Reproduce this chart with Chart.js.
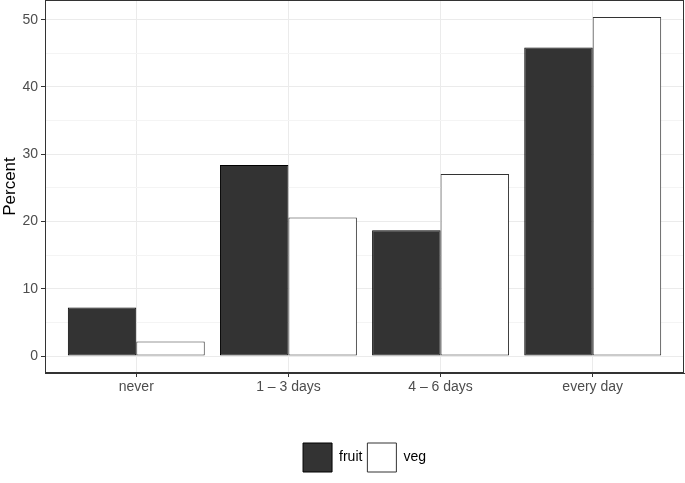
<!DOCTYPE html>
<html>
<head>
<meta charset="utf-8">
<script src="https://cdn.jsdelivr.net/npm/chart.js@4/dist/chart.umd.min.js"></script>
<style>
html,body{margin:0;padding:0;background:#fff;}
#wrap{width:685px;height:483px;}
</style>
</head>
<body>
<div id="wrap"><canvas id="c" width="685" height="483"></canvas></div>
<script>
const categories = ["never", "1 \u2013 3 days", "4 \u2013 6 days", "every day"];
const fruit = [7.2, 28.4, 18.7, 45.85];
const veg = [2.15, 20.6, 27.05, 50.4];
const yTicks = [0, 5, 10, 15, 20, 25, 30, 35, 40, 45, 50];

const FONT = "'Liberation Sans', Arial, Helvetica, sans-serif";

const panelBorder = {
  id: 'panelBorder',
  afterDatasetsDraw(chart) {
    const a = chart.chartArea, ctx = chart.ctx;
    ctx.save();
    ctx.strokeStyle = '#333333';
    ctx.lineWidth = 1;
    ctx.strokeRect(Math.round(a.left) + 0.5, Math.round(a.top) + 0.5,
                   Math.round(a.right - a.left) - 1, Math.round(a.bottom - a.top) - 1);
    ctx.restore();
  }
};

new Chart(document.getElementById('c'), {
  type: 'bar',
  data: {
    datasets: [
      { label: 'fruit', data: fruit.map((v, i) => ({x: i + 1, y: v})),
        backgroundColor: '#333333', borderColor: '#000000', borderWidth: 1, borderSkipped: false },
      { label: 'veg', data: veg.map((v, i) => ({x: i + 1, y: v})),
        backgroundColor: '#ffffff', borderColor: '#333333', borderWidth: 1, borderSkipped: false }
    ]
  },
  options: {
    responsive: false,
    animation: false,
    devicePixelRatio: 1,
    categoryPercentage: 0.9,
    barPercentage: 1.0,
    layout: { padding: { top: 0, right: 1, left: 0, bottom: 1 } },
    plugins: {
      tooltip: { enabled: false },
      legend: {
        position: 'bottom',
        fullSize: false,
        labels: {
          font: { family: FONT, size: 14 },
          color: '#000000',
          boxWidth: 29,
          boxHeight: 29,
          padding: 5
        }
      }
    },
    scales: {
      x: {
        type: 'linear',
        min: 0.4,
        max: 4.6,
        offset: false,
        afterBuildTicks(s) { s.ticks = categories.map((c, i) => ({value: i + 1})); },
        afterFit(s) { s.height = 65; s.paddingLeft = 0; s.paddingRight = 0; },
        ticks: {
          autoSkip: false,
          maxRotation: 0,
          padding: 2,
          color: '#4D4D4D',
          font: { family: FONT, size: 14 },
          callback: (v) => categories[Math.round(v) - 1] || ''
        },
        grid: {
          offset: false,
          color: '#EBEBEB',
          lineWidth: 1,
          tickLength: 4,
          tickColor: '#333333'
        },
        border: { color: '#333333', width: 1 }
      },
      y: {
        min: -2.52,
        max: 52.92,
        afterBuildTicks(s) { s.ticks = yTicks.map(v => ({value: v})); },
        afterFit(s) { s.width = 45; s.paddingTop = 0; s.paddingBottom = 0; },
        title: {
          display: true,
          text: 'Percent',
          color: '#000000',
          font: { family: FONT, size: 17 },
          padding: { top: 0, bottom: 3 }
        },
        ticks: {
          autoSkip: false,
          padding: 3,
          color: '#4D4D4D',
          font: { family: FONT, size: 14 },
          callback: (v) => (v % 10 === 0 ? String(v) : '')
        },
        grid: {
          color: (ctx) => (ctx.tick && ctx.tick.value % 10 === 0 ? '#EBEBEB' : '#F4F4F4'),
          lineWidth: 1,
          tickLength: 4,
          tickColor: (ctx) => (ctx.tick && ctx.tick.value % 10 === 0 ? '#333333' : 'rgba(0,0,0,0)')
        },
        border: { color: '#333333', width: 1 }
      }
    }
  },
  plugins: [panelBorder]
});
</script>
</body>
</html>
